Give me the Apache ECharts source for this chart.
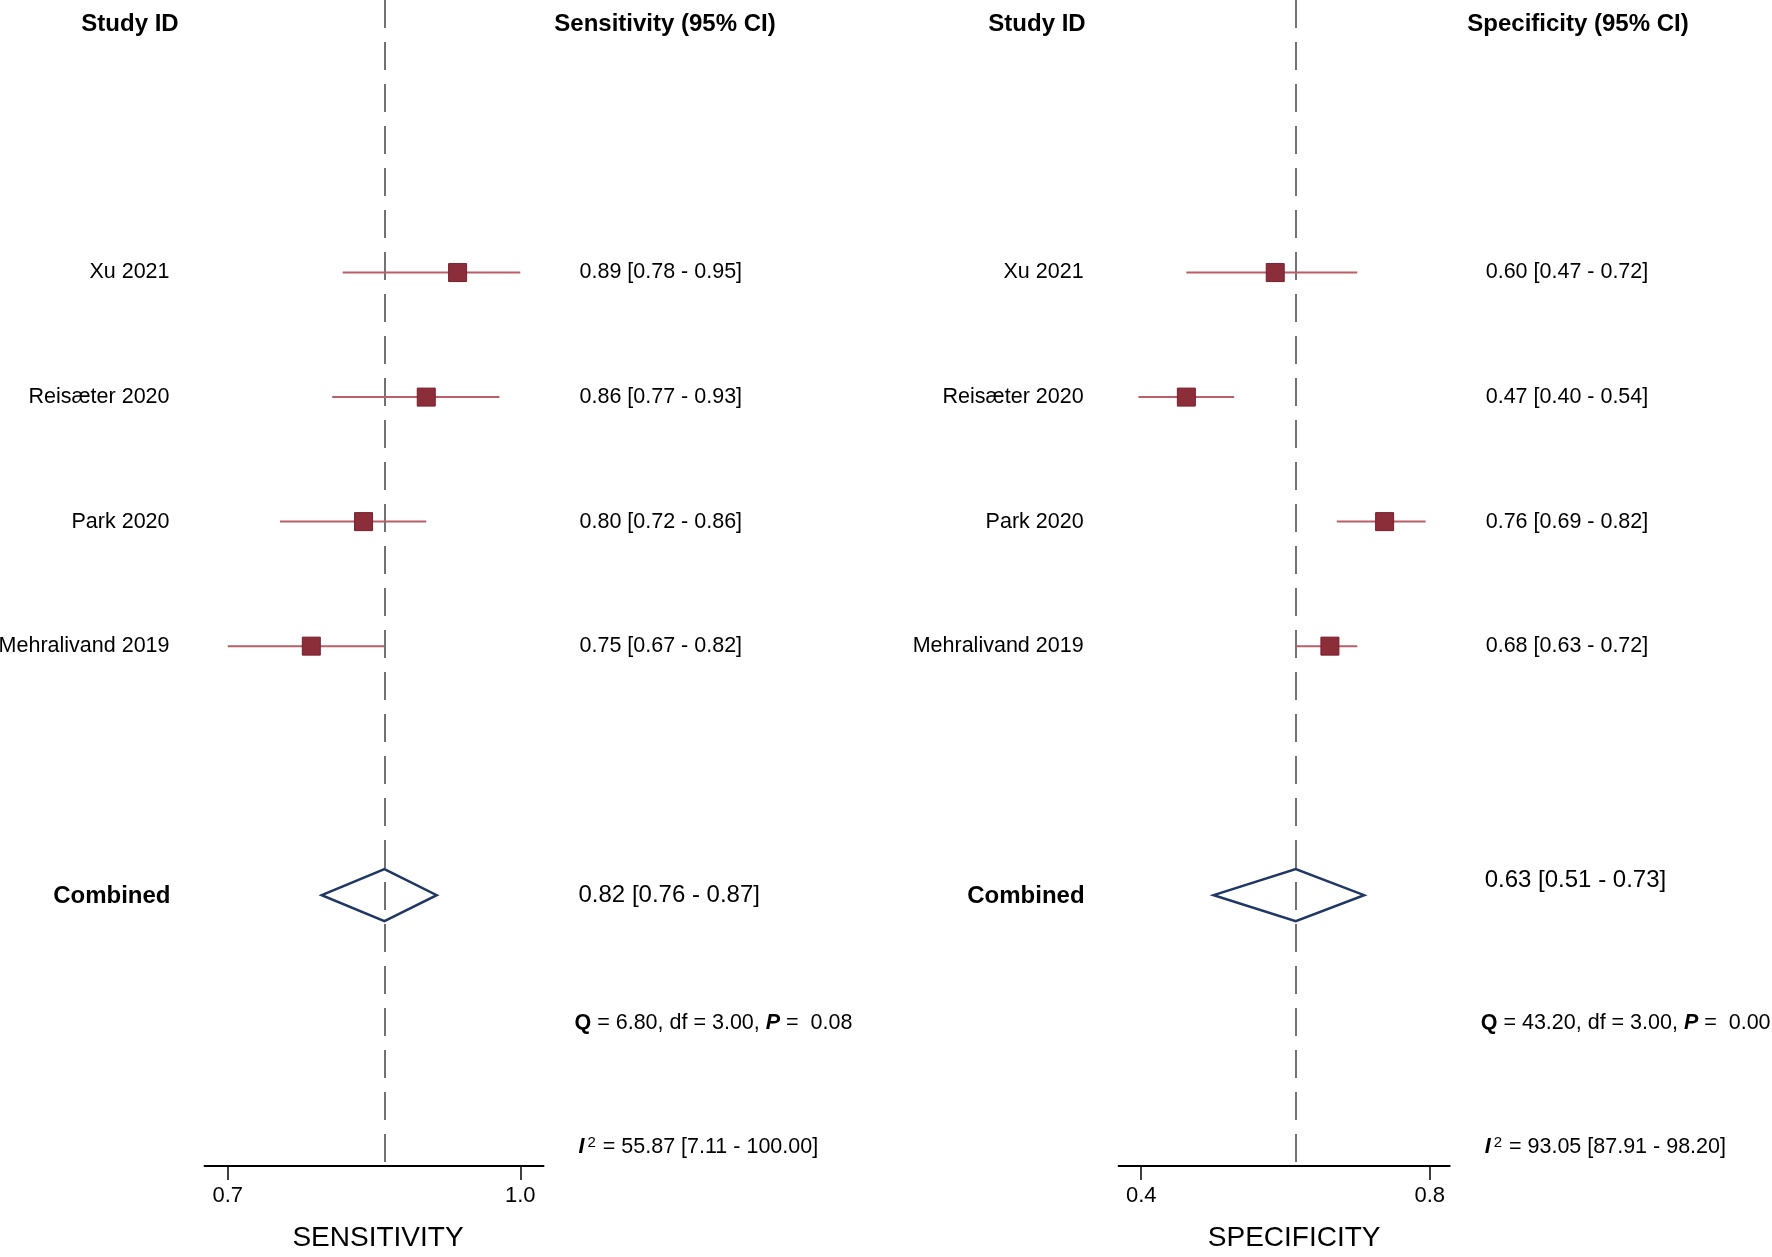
<!DOCTYPE html>
<html>
<head>
<meta charset="utf-8">
<script src="https://cdn.jsdelivr.net/npm/echarts@6/dist/echarts.min.js"></script>
<style>html,body{margin:0;padding:0;background:#fff;}#c{width:1772px;height:1257px;}</style>
</head>
<body>
<div id="c"></div>
<script>
// ---- data ----
const studies = ['Xu 2021', 'Reisæter 2020', 'Park 2020', 'Mehralivand 2019'];
const sensEst = [0.89, 0.86, 0.80, 0.75];
const sensLo  = [0.78, 0.77, 0.72, 0.67];
const sensHi  = [0.95, 0.93, 0.86, 0.82];
const specEst = [0.60, 0.47, 0.76, 0.68];
const specLo  = [0.47, 0.40, 0.69, 0.63];
const specHi  = [0.72, 0.54, 0.82, 0.72];
const sensCombined = [0.82, 0.76, 0.87];
const specCombined = [0.63, 0.51, 0.73];
const sensQ = ['6.80', '3.00', '0.08'];
const specQ = ['43.20', '3.00', '0.00'];
const sensI2 = ['55.87', '7.11', '100.00'];
const specI2 = ['93.05', '87.91', '98.20'];
const sensTicks = [0.67, 0.95];
const sensTickLabels = ['0.7', '1.0'];
const specTicks = [0.404, 0.826];
const specTickLabels = ['0.4', '0.8'];
const studyRows = [2, 3, 4, 5];
const combinedRow = 7, qRow = 8, i2Row = 9;

const FONT = '"Liberation Sans", Arial, Helvetica, sans-serif';
const f2 = v => v.toFixed(2);

function buildRecords(est, lo, hi, comb, q, i2, combTextShift) {
  const recs = studies.map((n, i) => ({
    type: 'study', name: n, v: est[i], lo: lo[i], hi: hi[i], row: studyRows[i],
    text: f2(est[i]) + ' [' + f2(lo[i]) + ' - ' + f2(hi[i]) + ']'
  }));
  recs.push({type: 'combined', name: 'Combined', v: comb[0], lo: comb[1], hi: comb[2], row: combinedRow,
    text: f2(comb[0]) + ' [' + f2(comb[1]) + ' - ' + f2(comb[2]) + ']', shift: combTextShift});
  recs.push({type: 'q', v: comb[0], lo: comb[0], hi: comb[0], row: qRow, dx: -5,
    text: '{b|Q} = ' + q[0] + ', df = ' + q[1] + ', {bi|P} =  ' + q[2]});
  recs.push({type: 'i2', v: comb[0], lo: comb[0], hi: comb[0], row: i2Row, dx: -1,
    text: '{bi|I}{sup|2} = ' + i2[0] + ' [' + i2[1] + ' - ' + i2[2] + ']'});
  return recs;
}

const recS = buildRecords(sensEst, sensLo, sensHi, sensCombined, sensQ, sensI2, 0);
const recP = buildRecords(specEst, specLo, specHi, specCombined, specQ, specI2, -15);

function makeRender(recs) {
  return function (params, api) {
    const r = recs[params.dataIndex];
    const cs = params.coordSys;
    const p = api.coord([r.v, r.row]);
    const leftX = cs.x - 35;
    const rightX = cs.x + cs.width + 36;
    const children = [];
    const rich = {
      b: {fontWeight: 'bold', fontSize: 21.5, fontFamily: FONT},
      bi: {fontWeight: 'bold', fontStyle: 'italic', fontSize: 21.5, fontFamily: FONT},
      sup: {fontSize: 15, fontFamily: FONT, verticalAlign: 'top', padding: [0, 1, 8, 3]}
    };
    if (r.type === 'study') {
      const a = api.coord([r.lo, r.row]), b = api.coord([r.hi, r.row]);
      children.push({type: 'line', shape: {x1: a[0], y1: a[1], x2: b[0], y2: b[1]},
        style: {stroke: '#b95f69', lineWidth: 2}, z2: 2});
      children.push({type: 'rect', shape: {x: p[0] - 9, y: p[1] - 9, width: 18, height: 18},
        style: {fill: '#8c2d3a', stroke: '#7a1f2c', lineWidth: 1}, z2: 3});
      children.push({type: 'text', x: leftX, y: p[1], style: {text: r.name, align: 'right', verticalAlign: 'middle',
        fontSize: 21.5, fontFamily: FONT, fill: '#000'}});
      children.push({type: 'text', x: rightX, y: p[1], style: {text: r.text, align: 'left', verticalAlign: 'middle',
        fontSize: 21.5, fontFamily: FONT, fill: '#000'}});
    } else if (r.type === 'combined') {
      const a = api.coord([r.lo, r.row]), b = api.coord([r.hi, r.row]);
      children.push({type: 'polygon', shape: {points: [[a[0], a[1]], [p[0], p[1] - 26], [b[0], b[1]], [p[0], p[1] + 26]]},
        style: {fill: 'rgba(255,255,255,0)', stroke: '#1e3764', lineWidth: 2.5}, z2: 3});
      children.push({type: 'text', x: leftX + 1, y: p[1] + 1, style: {text: r.name, align: 'right', verticalAlign: 'middle',
        fontSize: 24, fontWeight: 'bold', fontFamily: FONT, fill: '#000'}});
      children.push({type: 'text', x: rightX - 1, y: p[1] + (r.shift || 0), style: {text: r.text, align: 'left', verticalAlign: 'middle',
        fontSize: 24, fontFamily: FONT, fill: '#000'}});
    } else {
      children.push({type: 'text', x: rightX + r.dx, y: p[1] + 3, style: {text: r.text, rich: rich, align: 'left', verticalAlign: 'middle',
        fontSize: 21.5, fontFamily: FONT, fill: '#000'}});
    }
    return {type: 'group', children: children};
  };
}

function xAxisFor(idx, min, max, ticks, labels, name, namePad) {
  return {
    gridIndex: idx, type: 'value', min: min, max: max, position: 'bottom',
    name: name, nameLocation: 'middle', nameGap: 58,
    nameTextStyle: {fontSize: 28, fontFamily: FONT, color: '#000', padding: [0, 0, 0, namePad]},
    axisLine: {show: true, onZero: false, lineStyle: {color: '#000', width: 2}},
    axisTick: {show: true, length: 14, lineStyle: {color: '#000', width: 1.5}, customValues: ticks},
    axisLabel: {show: true, margin: 19, fontSize: 22, fontFamily: FONT, color: '#000',
      customValues: ticks, formatter: v => labels[ticks.findIndex(t => Math.abs(t - v) < 1e-9)]},
    splitLine: {show: false}
  };
}

function yAxisFor(idx) {
  return {gridIndex: idx, type: 'value', inverse: true, min: -0.189, max: 9.175, show: false};
}

function dashedLine(idx, v) {
  return {
    type: 'line', xAxisIndex: idx, yAxisIndex: idx, data: [], silent: true,
    markLine: {symbol: ['none', 'none'], silent: true, label: {show: false},
      lineStyle: {color: '#505050', width: 1.6, type: [28, 14]},
      data: [{xAxis: v}]}
  };
}

const chart = echarts.init(document.getElementById('c'), null, {renderer: 'canvas'});
chart.setOption({
  animation: false,
  backgroundColor: '#fff',
  grid: [
    {left: 204.5, top: 0, width: 339, height: 1174},
    {left: 1118.6, top: 0, width: 331.1, height: 1174}
  ],
  xAxis: [
    xAxisFor(0, 0.6478, 0.9722, sensTicks, sensTickLabels, 'SENSITIVITY', 8),
    xAxisFor(1, 0.3709, 0.8552, specTicks, specTickLabels, 'SPECIFICITY', 20)
  ],
  yAxis: [yAxisFor(0), yAxisFor(1)],
  graphic: [
    {type: 'text', x: 130, y: 24, style: {text: 'Study ID', align: 'center', verticalAlign: 'middle', fontSize: 24, fontWeight: 'bold', fontFamily: FONT, fill: '#000'}},
    {type: 'text', x: 665, y: 24, style: {text: 'Sensitivity (95% CI)', align: 'center', verticalAlign: 'middle', fontSize: 24, fontWeight: 'bold', fontFamily: FONT, fill: '#000'}},
    {type: 'text', x: 1037, y: 24, style: {text: 'Study ID', align: 'center', verticalAlign: 'middle', fontSize: 24, fontWeight: 'bold', fontFamily: FONT, fill: '#000'}},
    {type: 'text', x: 1578, y: 24, style: {text: 'Specificity (95% CI)', align: 'center', verticalAlign: 'middle', fontSize: 24, fontWeight: 'bold', fontFamily: FONT, fill: '#000'}}
  ],
  series: [
    dashedLine(0, sensCombined[0]),
    dashedLine(1, specCombined[0]),
    {type: 'custom', xAxisIndex: 0, yAxisIndex: 0, clip: false, renderItem: makeRender(recS),
      encode: {x: [0, 1, 2], y: 3}, data: recS.map(r => [r.v, r.lo, r.hi, r.row]), z: 5},
    {type: 'custom', xAxisIndex: 1, yAxisIndex: 1, clip: false, renderItem: makeRender(recP),
      encode: {x: [0, 1, 2], y: 3}, data: recP.map(r => [r.v, r.lo, r.hi, r.row]), z: 5}
  ]
});
</script>
</body>
</html>
